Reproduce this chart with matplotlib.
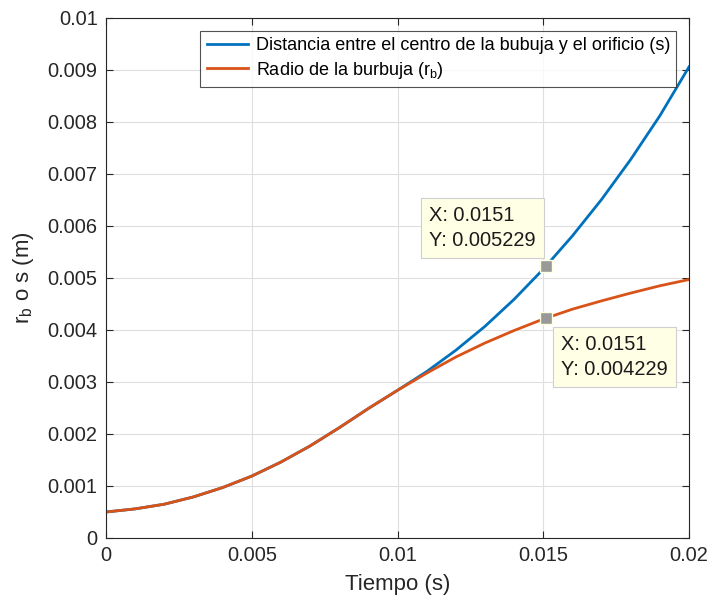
import numpy as np
import matplotlib.pyplot as plt

plt.rcParams['font.family'] = ['Liberation Sans', 'DejaVu Sans']

tiempo = np.array([0.000, 0.001, 0.002, 0.003, 0.004, 0.005, 0.006,
                   0.007, 0.008, 0.009, 0.010, 0.011, 0.012, 0.013,
                   0.014, 0.015, 0.016, 0.017, 0.018, 0.019, 0.020])
distancia_s = np.array([0.000500, 0.000560, 0.000650, 0.000790, 0.000970,
                        0.001190, 0.001460, 0.001770, 0.002120, 0.002490,
                        0.002840, 0.003200, 0.003610, 0.004070, 0.004590,
                        0.005170, 0.005810, 0.006510, 0.007280, 0.008120,
                        0.009060])
radio_rb = np.array([0.000500, 0.000560, 0.000650, 0.000790, 0.000970,
                     0.001190, 0.001460, 0.001770, 0.002120, 0.002490,
                     0.002840, 0.003170, 0.003480, 0.003750, 0.003990,
                     0.004210, 0.004400, 0.004560, 0.004710, 0.004850,
                     0.004970])

tip_x = 0.0151
tip_s = 0.005229
tip_rb = 0.004229

BLUE = '#0072BD'
ORANGE = '#D95319'
AXIS = '#262626'

fig = plt.figure(figsize=(7.11, 6.03), dpi=100)
ax = fig.add_axes([0.1491, 0.1078, 0.8200, 0.8624])

ax.plot(tiempo, distancia_s, color=BLUE, linewidth=2,
        label='Distancia entre el centro de la bubuja y el orificio (s)')
ax.plot(tiempo, radio_rb, color=ORANGE, linewidth=2,
        label='Radio de la burbuja (r$_\\mathregular{b}$)')

ax.set_xlim(0, 0.02)
ax.set_ylim(0, 0.01)
ax.set_xticks(np.arange(0, 0.0201, 0.005))
ax.set_yticks(np.arange(0, 0.01001, 0.001))
ax.set_xticklabels(['0', '0.005', '0.01', '0.015', '0.02'])
ax.set_yticklabels(['0'] + ['%g' % v for v in np.arange(0.001, 0.0095, 0.001)] + ['0.01'])

ax.grid(True, color='#dfdfdf', linewidth=0.8)
ax.set_axisbelow(True)
ax.tick_params(direction='in', top=True, right=True, length=5,
               labelsize=14.4, colors=AXIS, width=0.8, pad=6)
for spine in ax.spines.values():
    spine.set_color(AXIS)
    spine.set_linewidth(0.8)

ax.set_xlabel('Tiempo (s)', fontsize=16, color=AXIS, labelpad=6)
ax.set_ylabel('r$_\\mathregular{b}$ o s (m)', fontsize=16, color=AXIS, labelpad=8)

leg = ax.legend(loc='upper right', bbox_to_anchor=(0.978, 0.975), fontsize=13.0,
                frameon=True, fancybox=False, handlelength=2.3,
                borderpad=0.35, labelspacing=0.3, handletextpad=0.4,
                borderaxespad=0)
leg.get_frame().set_edgecolor(AXIS)
leg.get_frame().set_linewidth(0.8)

# Data tips
tip_box = dict(boxstyle='square,pad=0.4', facecolor='#ffffe6', edgecolor='#cfcfcf', linewidth=0.8)
for y_val, offset in [(tip_s, (-117, 38)), (tip_rb, (15, -39))]:
    ax.plot(tip_x, y_val, marker='s', markersize=8, color='#999999',
            markeredgecolor='#ffffe0', markeredgewidth=1, zorder=5)
    ax.annotate('X: %g\nY: %g' % (tip_x, y_val), xy=(tip_x, y_val),
                xytext=offset, textcoords='offset pixels',
                ha='left', va='center', fontsize=14.4, color='#1a1a1a',
                linespacing=1.35, bbox=tip_box, zorder=6)

fig.savefig('out.png', dpi=100, facecolor='white')
